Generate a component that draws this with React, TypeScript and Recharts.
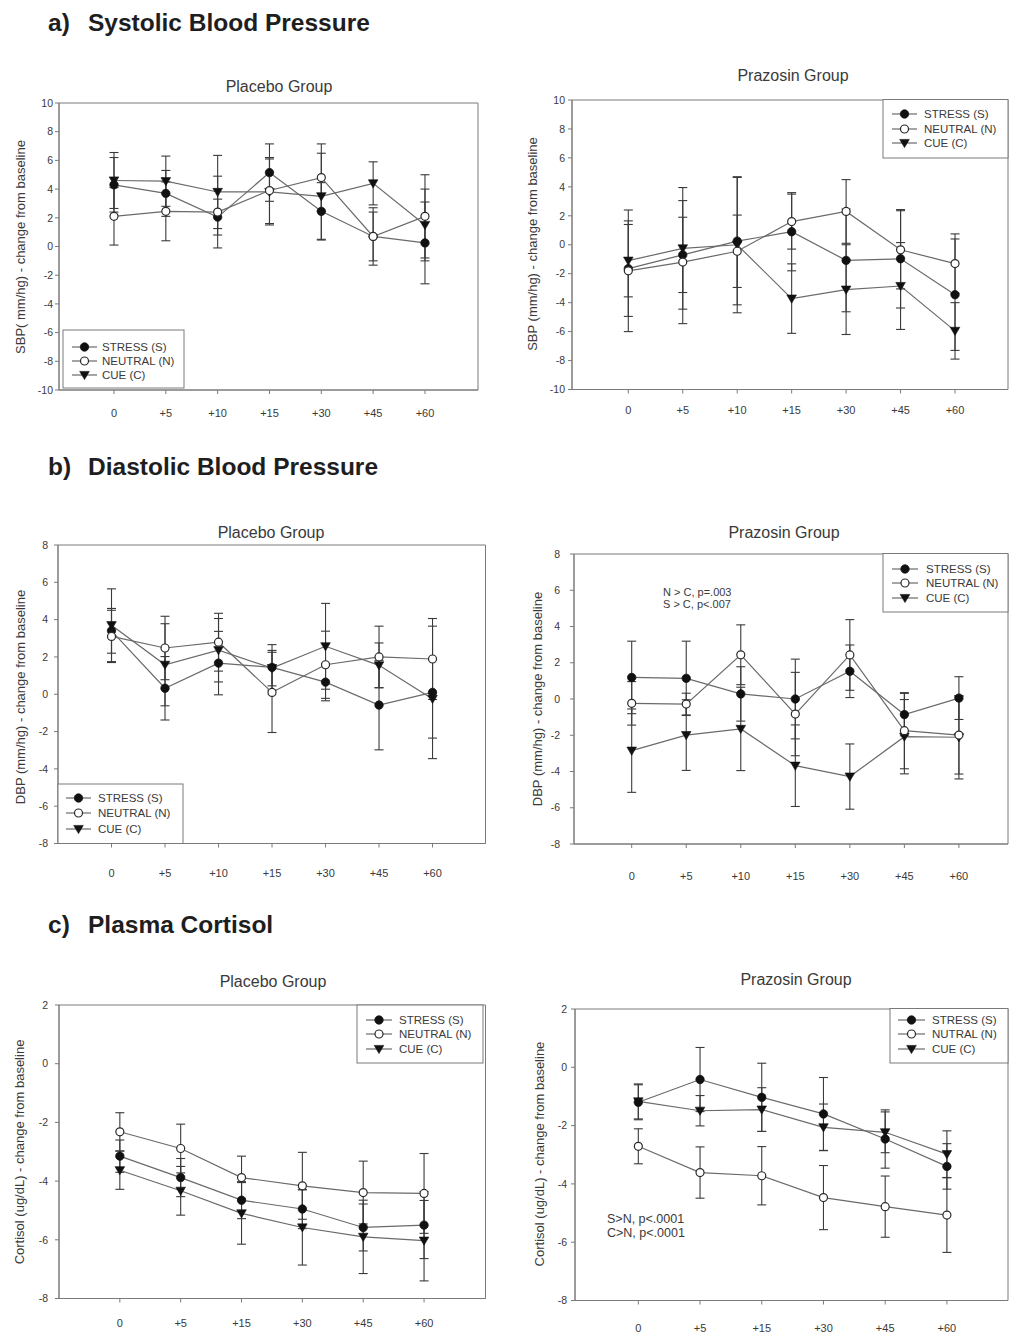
import React from 'react';
import { LineChart, Line, XAxis, YAxis, ErrorBar, ReferenceArea } from 'recharts';

const FONT = '"Liberation Sans", Arial, Helvetica, sans-serif';

// ---------- categories ----------
const times7 = ['0', '+5', '+10', '+15', '+30', '+45', '+60'];
const times6 = ['0', '+5', '+15', '+30', '+45', '+60'];

// ---------- a) SBP placebo ----------
const sbpPlaceboStress = [4.3, 3.7, 2.05, 5.15, 2.45, 0.7, 0.25];
const sbpPlaceboStressErr = [1.9, 1.6, 1.25, 2.0, 2.0, 2.0, 2.85];
const sbpPlaceboNeutral = [2.1, 2.45, 2.4, 3.9, 4.8, 0.7, 2.1];
const sbpPlaceboNeutralErr = [2.0, 2.05, 2.5, 2.3, 2.35, 1.7, 2.9];
const sbpPlaceboCue = [4.6, 4.55, 3.8, 3.8, 3.5, 4.4, 1.5];
const sbpPlaceboCueErr = [1.95, 1.75, 2.55, 2.3, 3.0, 1.5, 2.5];

// ---------- a) SBP prazosin ----------
const sbpPrazosinStress = [-1.65, -0.7, 0.25, 0.9, -1.08, -0.97, -3.45];
const sbpPrazosinStressErr = [3.3, 2.6, 4.4, 2.7, 3.55, 3.4, 3.85];
const sbpPrazosinNeutral = [-1.8, -1.2, -0.45, 1.6, 2.3, -0.35, -1.3];
const sbpPrazosinNeutralErr = [4.2, 4.25, 2.5, 1.9, 2.2, 2.7, 2.05];
const sbpPrazosinCue = [-1.1, -0.25, 0.0, -3.72, -3.1, -2.85, -5.95];
const sbpPrazosinCueErr = [2.5, 4.2, 4.7, 2.4, 3.1, 3.0, 1.95];

// ---------- b) DBP placebo ----------
const dbpPlaceboStress = [3.4, 0.32, 1.67, 1.44, 0.65, -0.58, 0.1];
const dbpPlaceboStressErr = [1.2, 1.7, 1.7, 1.22, 1.0, 2.4, 3.55];
const dbpPlaceboNeutral = [3.1, 2.48, 2.79, 0.1, 1.58, 2.0, 1.89];
const dbpPlaceboNeutralErr = [1.4, 1.7, 1.55, 2.15, 1.8, 1.65, 2.17];
const dbpPlaceboCue = [3.7, 1.58, 2.36, 1.4, 2.57, 1.55, -0.25];
const dbpPlaceboCueErr = [1.95, 2.2, 1.7, 0.95, 2.3, 1.2, 2.1];

// ---------- b) DBP prazosin ----------
const dbpPrazosinStress = [1.19, 1.14, 0.28, 0.0, 1.53, -0.86, 0.05];
const dbpPrazosinStressErr = [2.0, 2.05, 1.5, 2.2, 1.45, 1.17, 1.18];
const dbpPrazosinNeutral = [-0.24, -0.28, 2.44, -0.83, 2.43, -1.75, -1.99];
const dbpPrazosinNeutralErr = [1.2, 0.6, 1.65, 2.3, 1.95, 2.1, 2.15];
const dbpPrazosinCue = [-2.85, -1.99, -1.65, -3.68, -4.28, -2.08, -2.11];
const dbpPrazosinCueErr = [2.3, 1.95, 2.3, 2.25, 1.8, 2.05, 2.3];

// ---------- c) Cortisol placebo ----------
const cortPlaceboStress = [-3.15, -3.88, -4.65, -4.95, -5.58, -5.5];
const cortPlaceboStressErr = [0.55, 0.65, 0.63, 0.67, 0.8, 1.14];
const cortPlaceboNeutral = [-2.32, -2.89, -3.88, -4.16, -4.39, -4.42];
const cortPlaceboNeutralErr = [0.65, 0.83, 0.73, 1.14, 1.07, 1.36];
const cortPlaceboCue = [-3.63, -4.33, -5.1, -5.58, -5.9, -6.03];
const cortPlaceboCueErr = [0.65, 0.83, 1.05, 1.28, 1.25, 1.37];

// ---------- c) Cortisol prazosin ----------
const cortPrazosinStress = [-1.2, -0.42, -1.03, -1.6, -2.46, -3.4];
const cortPrazosinStressErr = [0.6, 1.1, 1.17, 1.25, 1.0, 0.78];
const cortPrazosinNeutral = [-2.71, -3.61, -3.72, -4.47, -4.78, -5.07];
const cortPrazosinNeutralErr = [0.6, 0.88, 1.0, 1.1, 1.05, 1.28];
const cortPrazosinCue = [-1.17, -1.49, -1.45, -2.06, -2.23, -2.98];
const cortPrazosinCueErr = [0.6, 0.52, 0.75, 0.8, 0.7, 0.8];

// ---------- tick values ----------
const ticksSBP = [-10, -8, -6, -4, -2, 0, 2, 4, 6, 8, 10];
const ticksDBP = [-8, -6, -4, -2, 0, 2, 4, 6, 8];
const ticksCort = [-8, -6, -4, -2, 0, 2];

const legendStd = ['STRESS (S)', 'NEUTRAL (N)', 'CUE (C)'];
const legendTypo = ['STRESS (S)', 'NUTRAL (N)', 'CUE (C)'];

const LINE = '#6a6a6a';
const ERR = '#3a3a3a';
const AXIS = '#7a7a7a';
const TXT = '#3a3a3a';

type Kind = 'stress' | 'neutral' | 'cue';

function markerEl(kind: Kind, cx: number, cy: number, key?: string) {
  if (kind === 'stress') return <circle key={key} cx={cx} cy={cy} r={4.2} fill="#111" stroke="#111" strokeWidth={0.8} />;
  if (kind === 'neutral') return <circle key={key} cx={cx} cy={cy} r={4} fill="#fff" stroke="#2a2a2a" strokeWidth={1.2} />;
  return <path key={key} d={`M${cx - 4.8},${cy - 3.6} L${cx + 4.8},${cy - 3.6} L${cx},${cy + 4.6} Z`} fill="#111" stroke="#111" strokeWidth={0.6} />;
}

type PanelProps = {
  L: number; T: number; R: number; B: number;
  xMin: number; xMax: number;
  labels: string[];
  stress: number[]; stressErr: number[];
  neutral: number[]; neutralErr: number[];
  cue: number[]; cueErr: number[];
  yDomain: [number, number]; yTicks: number[];
  xTickMargin: number; yTickMargin: number;
};

function Panel(p: PanelProps) {
  const data = p.labels.map((lab, i) => ({
    x: i, label: lab,
    s: p.stress[i], sE: p.stressErr[i],
    n: p.neutral[i], nE: p.neutralErr[i],
    c: p.cue[i], cE: p.cueErr[i],
  }));
  const CL = p.L - 60;
  const CT = p.T - 6;
  const CW = p.R - CL + 3;
  const CH = p.B - CT + 50;
  const tickStyle = { fill: TXT, fontSize: 10.5, fontFamily: FONT };
  const mk = (kind: Kind, pre: string) => (d: any) => markerEl(kind, d.cx, d.cy, `${pre}-${d.index}`);
  return (
    <div style={{ position: 'absolute', left: CL, top: CT }}>
      <LineChart width={CW} height={CH} data={data} margin={{ top: 6, right: 3, bottom: 10, left: 0 }}>
        <XAxis
          type="number" dataKey="x" domain={[p.xMin, p.xMax]} allowDataOverflow
          ticks={p.labels.map((_, i) => i)} tickFormatter={(v: number) => p.labels[v] ?? ''}
          interval={0} height={40} stroke={AXIS} tickSize={4} tickMargin={p.xTickMargin}
          tick={{ ...tickStyle, fontSize: 11 }}
        />
        <YAxis
          type="number" domain={p.yDomain} ticks={p.yTicks} allowDataOverflow interval={0}
          width={60} stroke={AXIS} tickSize={4} tickMargin={p.yTickMargin} tick={tickStyle}
        />
        <ReferenceArea x1={p.xMin} x2={p.xMax} y1={p.yDomain[0]} y2={p.yDomain[1]} fill="none" stroke={AXIS} strokeWidth={1} ifOverflow="visible" />
        <Line dataKey="s" stroke={LINE} strokeWidth={1.2} isAnimationActive={false} dot={mk('stress', 's')} activeDot={false}>
          <ErrorBar dataKey="sE" width={4.5} stroke={ERR} strokeWidth={1.1} direction="y" isAnimationActive={false} />
        </Line>
        <Line dataKey="c" stroke={LINE} strokeWidth={1.2} isAnimationActive={false} dot={mk('cue', 'c')} activeDot={false}>
          <ErrorBar dataKey="cE" width={4.5} stroke={ERR} strokeWidth={1.1} direction="y" isAnimationActive={false} />
        </Line>
        <Line dataKey="n" stroke={LINE} strokeWidth={1.2} isAnimationActive={false} dot={mk('neutral', 'n')} activeDot={false}>
          <ErrorBar dataKey="nE" width={4.5} stroke={ERR} strokeWidth={1.1} direction="y" isAnimationActive={false} />
        </Line>
      </LineChart>
    </div>
  );
}

function LegendBox({ x1, y1, x2, y2, rows, lx1, lx2, tx, names }: { x1: number; y1: number; x2: number; y2: number; rows: number[]; lx1: number; lx2: number; tx: number; names: string[] }) {
  const kinds: Kind[] = ['stress', 'neutral', 'cue'];
  return (
    <g>
      <rect x={x1} y={y1} width={x2 - x1} height={y2 - y1} fill="#fff" stroke={AXIS} strokeWidth={1} />
      {kinds.map((k, i) => (
        <g key={k}>
          <line x1={lx1} x2={lx2} y1={rows[i]} y2={rows[i]} stroke={LINE} strokeWidth={1.2} />
          {markerEl(k, (lx1 + lx2) / 2, rows[i])}
          <text x={tx} y={rows[i]} dominantBaseline="central" fontSize={11.5} fill={TXT} fontFamily={FONT}>{names[i]}</text>
        </g>
      ))}
    </g>
  );
}

function YLabel({ x, y, text }: { x: number; y: number; text: string }) {
  return (
    <text x={x} y={y} transform={`rotate(-90 ${x} ${y})`} textAnchor="middle" dominantBaseline="central" fontSize={13} fill={TXT} fontFamily={FONT}>{text}</text>
  );
}

function Title({ x, y, text }: { x: number; y: number; text: string }) {
  return <text x={x} y={y} textAnchor="middle" fontSize={16} fill={TXT} fontFamily={FONT}>{text}</text>;
}

function Header({ y, tag, text }: { y: number; tag: string; text: string }) {
  return (
    <g fontFamily={FONT} fontWeight="bold" fontSize={24.5} fill="#1e1e1e">
      <text x={48} y={y}>{tag}</text>
      <text x={88} y={y}>{text}</text>
    </g>
  );
}

export default function App() {
  return (
    <div style={{ position: 'absolute', left: 0, top: 0, width: 1010, height: 1336, overflow: 'hidden', background: '#fff', fontFamily: FONT }}>
      <Panel L={59} T={103} R={478} B={390} xMin={-1.061} xMax={7.023} labels={times7}
        stress={sbpPlaceboStress} stressErr={sbpPlaceboStressErr} neutral={sbpPlaceboNeutral} neutralErr={sbpPlaceboNeutralErr}
        cue={sbpPlaceboCue} cueErr={sbpPlaceboCueErr} yDomain={[-10, 10]} yTicks={ticksSBP} xTickMargin={15} yTickMargin={2} />
      <Panel L={572} T={99.5} R={1008} B={389} xMin={-1.034} xMax={6.973} labels={times7}
        stress={sbpPrazosinStress} stressErr={sbpPrazosinStressErr} neutral={sbpPrazosinNeutral} neutralErr={sbpPrazosinNeutralErr}
        cue={sbpPrazosinCue} cueErr={sbpPrazosinCueErr} yDomain={[-10, 10]} yTicks={ticksSBP} xTickMargin={13} yTickMargin={3} />
      <Panel L={57.5} T={545} R={485} B={843.5} xMin={-1.0} xMax={6.99} labels={times7}
        stress={dbpPlaceboStress} stressErr={dbpPlaceboStressErr} neutral={dbpPlaceboNeutral} neutralErr={dbpPlaceboNeutralErr}
        cue={dbpPlaceboCue} cueErr={dbpPlaceboCueErr} yDomain={[-8, 8]} yTicks={ticksDBP} xTickMargin={22} yTickMargin={6} />
      <Panel L={574} T={553.5} R={1008} B={843.5} xMin={-1.058} xMax={6.9} labels={times7}
        stress={dbpPrazosinStress} stressErr={dbpPrazosinStressErr} neutral={dbpPrazosinNeutral} neutralErr={dbpPrazosinNeutralErr}
        cue={dbpPrazosinCue} cueErr={dbpPrazosinCueErr} yDomain={[-8, 8]} yTicks={ticksDBP} xTickMargin={24} yTickMargin={10} />
      <Panel L={58.5} T={1005} R={485} B={1298.5} xMin={-1.0} xMax={6.01} labels={times6}
        stress={cortPlaceboStress} stressErr={cortPlaceboStressErr} neutral={cortPlaceboNeutral} neutralErr={cortPlaceboNeutralErr}
        cue={cortPlaceboCue} cueErr={cortPlaceboCueErr} yDomain={[-8, 2]} yTicks={ticksCort} xTickMargin={17} yTickMargin={7} />
      <Panel L={575} T={1008.5} R={1008} B={1300} xMin={-1.026} xMax={5.99} labels={times6}
        stress={cortPrazosinStress} stressErr={cortPrazosinStressErr} neutral={cortPrazosinNeutral} neutralErr={cortPrazosinNeutralErr}
        cue={cortPrazosinCue} cueErr={cortPrazosinCueErr} yDomain={[-8, 2]} yTicks={ticksCort} xTickMargin={20} yTickMargin={4} />

      <svg width={1010} height={1336} style={{ position: 'absolute', left: 0, top: 0, pointerEvents: 'none' }}>
        <Header y={31} tag="a)" text="Systolic Blood Pressure" />
        <Header y={475} tag="b)" text="Diastolic Blood Pressure" />
        <Header y={933} tag="c)" text="Plasma Cortisol" />

        <Title x={279} y={92} text="Placebo Group" />
        <Title x={793} y={80.5} text="Prazosin Group" />
        <Title x={271} y={538} text="Placebo Group" />
        <Title x={784} y={538} text="Prazosin Group" />
        <Title x={273} y={987} text="Placebo Group" />
        <Title x={796} y={985} text="Prazosin Group" />

        <YLabel x={20} y={247} text="SBP( mm/hg) - change from baseline" />
        <YLabel x={532} y={244} text="SBP (mm/hg) - change from baseline" />
        <YLabel x={20} y={697} text="DBP (mm/hg) - change from baseline" />
        <YLabel x={537} y={699} text="DBP (mm/hg) - change from baseline" />
        <YLabel x={19} y={1152} text="Cortisol (ug/dL) - change from baseline" />
        <YLabel x={539} y={1154} text="Cortisol (ug/dL) - change from baseline" />

        <LegendBox x1={63} y1={330} x2={184} y2={388} rows={[347, 361, 375]} lx1={72} lx2={97} tx={102} names={legendStd} />
        <LegendBox x1={883} y1={99.5} x2={1008} y2={158} rows={[114, 129, 143]} lx1={892} lx2={917} tx={924} names={legendStd} />
        <LegendBox x1={58} y1={784} x2={183} y2={843.5} rows={[798, 813, 829]} lx1={66} lx2={91} tx={98} names={legendStd} />
        <LegendBox x1={883} y1={553.5} x2={1008} y2={612} rows={[569, 583, 598]} lx1={892} lx2={918} tx={926} names={legendStd} />
        <LegendBox x1={357} y1={1005} x2={483} y2={1063} rows={[1020, 1034, 1049]} lx1={366} lx2={392} tx={399} names={legendStd} />
        <LegendBox x1={890} y1={1008.5} x2={1008} y2={1063} rows={[1020, 1034, 1049]} lx1={898} lx2={925} tx={932} names={legendTypo} />

        <g fontFamily={FONT} fontSize={11} fill={TXT}>
          <text x={663} y={596}>N &gt; C, p=.003</text>
          <text x={663} y={608}>S &gt; C, p&lt;.007</text>
        </g>
        <g fontFamily={FONT} fontSize={12.5} fill={TXT}>
          <text x={607} y={1223}>S&gt;N, p&lt;.0001</text>
          <text x={607} y={1237}>C&gt;N, p&lt;.0001</text>
        </g>
      </svg>
    </div>
  );
}
